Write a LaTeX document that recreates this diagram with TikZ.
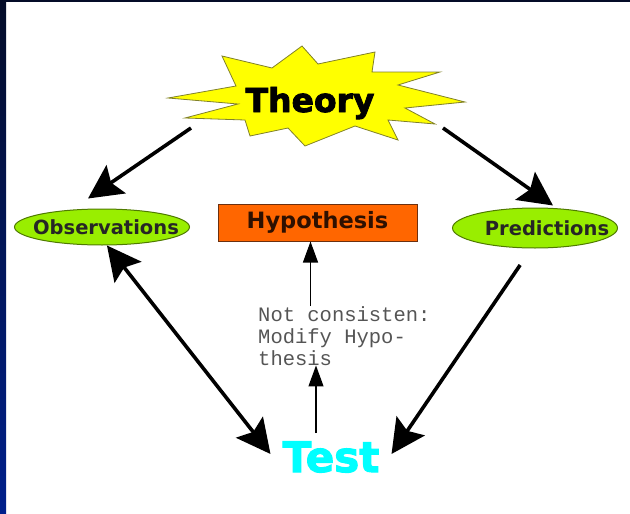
\documentclass[tikz,border=0pt]{standalone}
\usepackage{fontspec}
\setmainfont{DejaVu Sans}
\newfontfamily\heavyfont{DejaVu Sans Bold}[FakeBold=2.5]
\newfontfamily\labelfont{DejaVu Sans Bold}
\newfontfamily\notefont{Liberation Mono}
\usetikzlibrary{arrows.meta,shapes.geometric}

\definecolor{navytop}{HTML}{040C28}
\definecolor{navybot}{HTML}{00208C}
\definecolor{staryellow}{HTML}{FFFF00}
\definecolor{staredge}{HTML}{80802A}
\definecolor{lime}{HTML}{99EE00}
\definecolor{limeedge}{HTML}{4F7A00}
\definecolor{hyporange}{HTML}{FF6600}
\definecolor{hypedge}{HTML}{6B3010}
\definecolor{hyptext}{HTML}{2E1000}
\definecolor{testcyan}{HTML}{00FFFF}
\definecolor{notegray}{HTML}{555555}

\begin{document}
\begin{tikzpicture}[x=1pt,y=-1pt,
    bigarrow/.style={line width=3.6pt,-{Stealth[length=34pt,width=34pt,inset=6pt]}},
    bigboth/.style={line width=3.6pt,{Stealth[length=34pt,width=34pt,inset=6pt]}-{Stealth[length=34pt,width=34pt,inset=6pt]}},
    thinarrow/.style={line width=1.2pt,-{Triangle[length=21pt,width=15pt]}},
    bubble/.style={ellipse,draw=limeedge,line width=1pt,fill=lime,inner sep=0pt},
    bubbletext/.style={font=\labelfont\fontsize{19.5}{20}\selectfont,text=black!85}]
  \useasboundingbox (0,0) rectangle (630,514);

  % frame of the slide
  \shade[top color=navytop,bottom color=navybot] (0,0) rectangle (6,514);
  \fill[navytop] (0,0) rectangle (630,2);

  % the star
  \filldraw[fill=staryellow,draw=staredge,line width=0.8pt]
    (302,46) -- (318,64) -- (375,52) -- (372,72) -- (440,72) -- (398,85)
    -- (465,102) -- (405,108) -- (435,124) -- (388,120) -- (398,140)
    -- (355,126) -- (305,146) -- (288,128) -- (250,136) -- (245,120)
    -- (185,118) -- (238,104) -- (168,98) -- (236,86) -- (222,56)
    -- (272,68) -- cycle;
  \node[font=\heavyfont\fontsize{33}{33}\selectfont,anchor=base] (theory) at (310,112) {Theory};
  \coordinate (theory-sw) at (191,128);
  \coordinate (theory-se) at (443,128);

  \node[bubble,minimum width=175pt,minimum height=36pt,
        label={[bubbletext,xshift=4pt]center:Observations}] (obs) at (102,227) {};
  \node[bubble,minimum width=165pt,minimum height=40pt,
        label={[bubbletext,xshift=12pt]center:Predictions}] (pred) at (535,228) {};
  \node[draw=hypedge,line width=1pt,fill=hyporange,minimum width=199pt,minimum height=37pt,
        font=\labelfont\fontsize{22.5}{23}\selectfont,text=hyptext] (hyp) at (317.5,222.5) {Hypothesis};

  \node[font=\notefont\fontsize{20.5}{22}\selectfont,text=notegray,align=left,
        anchor=north west,inner sep=0pt] (note) at (258,306) {Not consisten:\\Modify Hypo-\\thesis};
  \node[font=\heavyfont\fontsize{42}{42}\selectfont,text=testcyan,inner sep=8pt,anchor=base] (test) at (331,472) {Test};

  \draw[bigarrow] (theory-sw) -- ([shift={(-14,-10)}]obs.north);
  \draw[bigarrow] (theory-se) -- ([shift={(18,-2)}]pred.north);
  \draw[bigboth] (obs.-75) -- ([shift={(-4,-3)}]test.west);
  \draw[bigarrow,shorten <=20pt] (pred.-100) -- ([shift={(4,-3)}]test.east);

  \draw[thinarrow] ([xshift=-7pt]hyp.south |- note.north) -- ([xshift=-7pt]hyp.south);
  \draw[thinarrow] ([xshift=-15pt]test.north) -- ([xshift=-15pt]test.north |- note.south);
\end{tikzpicture}
\end{document}
